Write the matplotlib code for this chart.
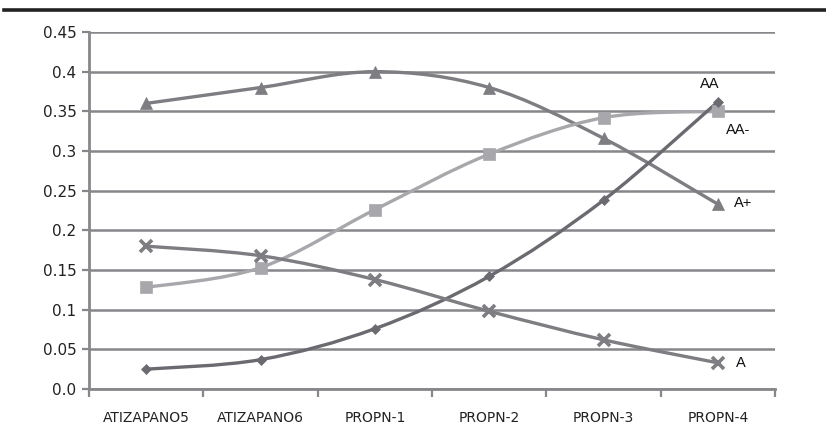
import numpy as np
import matplotlib.pyplot as plt
from matplotlib.path import Path
from matplotlib.patches import PathPatch

categories = ['ATIZAPANO5', 'ATIZAPANO6', 'PROPN-1', 'PROPN-2', 'PROPN-3', 'PROPN-4']
a_plus = [0.360, 0.380, 0.400, 0.380, 0.316, 0.233]
aa_minus = [0.128, 0.153, 0.226, 0.296, 0.342, 0.350]
aa = [0.025, 0.037, 0.076, 0.142, 0.238, 0.362]
a = [0.180, 0.168, 0.138, 0.098, 0.062, 0.033]
yticks = [0.0, 0.05, 0.1, 0.15, 0.2, 0.25, 0.3, 0.35, 0.4, 0.45]
ytick_labels = ['0.0', '0.05', '0.1', '0.15', '0.2', '0.25', '0.3', '0.35', '0.4', '0.45']


def smooth_path(xs, ys, t=1.0 / 6):
    # cubic bezier through the points, catmull-rom style control handles
    xs = np.asarray(xs, float)
    ys = np.asarray(ys, float)
    n = len(xs)
    verts = [(xs[0], ys[0])]
    codes = [Path.MOVETO]
    for i in range(n - 1):
        p0 = i - 1 if i > 0 else i
        p3 = i + 2 if i + 2 < n else i + 1
        c1 = (xs[i] + (xs[i + 1] - xs[p0]) * t, ys[i] + (ys[i + 1] - ys[p0]) * t)
        c2 = (xs[i + 1] - (xs[p3] - xs[i]) * t, ys[i + 1] - (ys[p3] - ys[i]) * t)
        verts += [c1, c2, (xs[i + 1], ys[i + 1])]
        codes += [Path.CURVE4] * 3
    return Path(verts, codes)


fig = plt.figure(figsize=(8.26, 4.34), dpi=100)
ax = fig.add_axes([89 / 826, 1 - 389 / 434, (775 - 89) / 826, (389 - 32) / 434])

# heavy rule across the top
fig.add_artist(plt.Line2D([4 / 826, 1], [1 - 10 / 434] * 2, color='#222222', lw=2.6,
                          transform=fig.transFigure))

x = np.arange(len(categories))
series = [
    (a_plus, '#7d7d82', '^', 8, 'A+'),
    (aa_minus, '#a8a8ac', 's', 8.5, 'AA-'),
    (aa, '#6a6a70', 'D', 5, 'AA'),
    (a, '#7d7d82', 'x', 9, 'A'),
]
for ys, col, mk, ms, name in series:
    ax.add_patch(PathPatch(smooth_path(x, ys), fill=False, edgecolor=col, lw=2.4,
                           capstyle='round', zorder=3))
    ax.plot(x, ys, linestyle='none', marker=mk, ms=ms, color=col,
            markeredgewidth=2.6 if mk == 'x' else 0.5, zorder=4)

lab_font = dict(family='Liberation Sans', fontsize=10.5, color='#111111')
ax.text(x[-1] - 0.07, aa[-1] + 0.013, 'AA', ha='center', va='bottom', **lab_font)
ax.text(x[-1] + 0.07, aa_minus[-1] - 0.024, 'AA-', ha='left', va='center', **lab_font)
ax.text(x[-1] + 0.14, a_plus[-1] + 0.002, 'A+', ha='left', va='center', **lab_font)
ax.text(x[-1] + 0.16, a[-1], 'A', ha='left', va='center', **lab_font)

ax.set_xlim(-0.5, len(categories) - 0.5)
ax.set_ylim(0, 0.45)
ax.set_yticks(yticks)
ax.set_yticklabels(ytick_labels, fontsize=11, color='#222222')
ax.set_xticks(x)
ax.set_xticklabels(categories, fontsize=10, color='#222222')
ax.set_xticks(np.arange(-0.5, len(categories)), minor=True)
ax.tick_params(axis='x', which='major', length=0, pad=16)
ax.tick_params(axis='x', which='minor', length=6, width=1.6, color='#87878b')
ax.tick_params(axis='y', length=5, width=1.6, color='#87878b', pad=4)

ax.grid(axis='y', color='#87878b', lw=1.8, zorder=1)
ax.set_axisbelow(True)
for side in ['top', 'right']:
    ax.spines[side].set_visible(False)
for side in ['left', 'bottom']:
    ax.spines[side].set_color('#87878b')
    ax.spines[side].set_linewidth(2)

fig.savefig('out.png', dpi=100)
